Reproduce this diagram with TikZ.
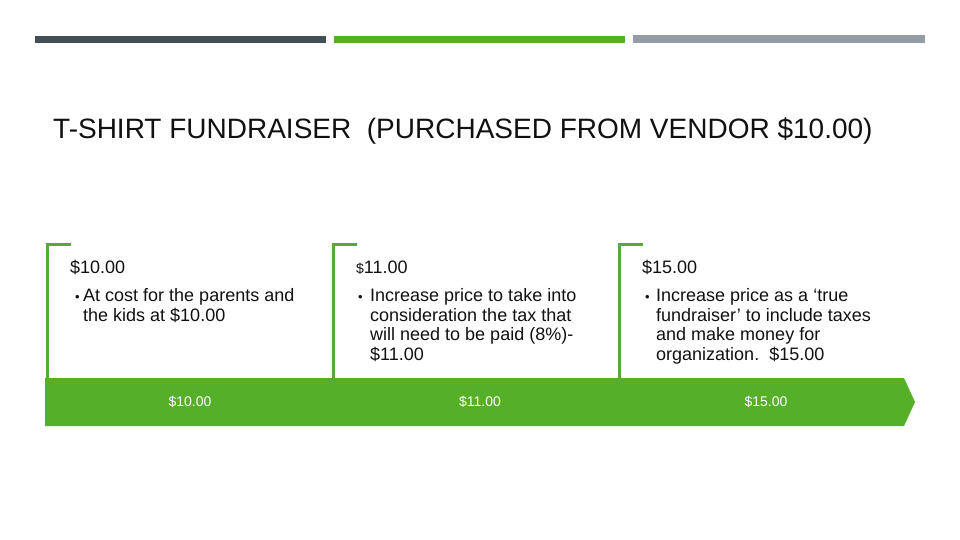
\documentclass[tikz,border=0pt]{standalone}
\usepackage{fontspec}
\setmainfont{Liberation Sans}
\definecolor{bandgreen}{HTML}{55B027}
\definecolor{brgreen}{HTML}{5BA83A}
\definecolor{darkbar}{HTML}{444F55}
\definecolor{graybar}{HTML}{959CA3}
\definecolor{txt}{HTML}{111111}
\begin{document}
\begin{tikzpicture}[x=1pt,y=-1pt,
  titlestyle/.style={anchor=base west, inner sep=0, text=txt, font=\fontsize{28}{30}\selectfont},
  headstyle/.style={anchor=base west, inner sep=0, text=txt, font=\fontsize{18}{20}\selectfont},
  bulletstyle/.style={anchor=base west, inner sep=0, text=txt, font=\fontsize{13}{14}\selectfont},
  bodystyle/.style={anchor=base west, inner sep=0, text=txt},
  bandlbl/.style={anchor=center, inner sep=0, text=white, font=\fontsize{14}{15}\selectfont},
  bracket/.style={draw=brgreen, line width=3pt}
]
\useasboundingbox[fill=white] (0,0) rectangle (960,540);
% top bars
\fill[darkbar] (35,36) rectangle (326,43);
\fill[bandgreen] (334,36) rectangle (625,43);
\fill[graybar] (633,35) rectangle (925,43);
% title
\node[titlestyle] (title) at (53,139) {T-SHIRT FUNDRAISER~~(PURCHASED FROM VENDOR \$10.00)};
% band arrow
\fill[bandgreen] (45,378) -- (904,378) -- (915,402) -- (904,426) -- (45,426) -- cycle;
% brackets
\draw[bracket] (71,244.5) -- (47,244.5) -- (47,378);
\draw[bracket] (357,244.5) -- (333,244.5) -- (333,378);
\draw[bracket] (643,244.5) -- (619,244.5) -- (619,378);
% column 1
\node[headstyle] (h1) at (70,273.5) {\$10.00};
\node[bulletstyle] (d1) at (75,301) {•};
\node[bodystyle] (t1) at (83,301.5) {\parbox[t]{240pt}{\fontsize{18}{19.6}\selectfont
At cost for the parents and\\the kids at \$10.00}};
% column 2
\node[headstyle] (h2) at (356,273.5) {{\fontsize{14}{14}\selectfont\$}11.00};
\node[bulletstyle] (d2) at (358,301) {•};
\node[bodystyle] (t2) at (370,301.5) {\parbox[t]{240pt}{\fontsize{18}{19.6}\selectfont
Increase price to take into\\consideration the tax that\\will need to be paid (8\%)-\\\$11.00}};
% column 3
\node[headstyle] (h3) at (642,273.5) {\$15.00};
\node[bulletstyle] (d3) at (645,301) {•};
\node[bodystyle] (t3) at (656,301.5) {\parbox[t]{240pt}{\fontsize{18}{19.6}\selectfont
Increase price as a ‘true\\fundraiser’ to include taxes\\and make money for\\organization.~~\$15.00}};
% band labels
\node[bandlbl] (b1) at (190,402) {\$10.00};
\node[bandlbl] (b2) at (480,402) {\$11.00};
\node[bandlbl] (b3) at (766,402) {\$15.00};
\end{tikzpicture}
\end{document}
